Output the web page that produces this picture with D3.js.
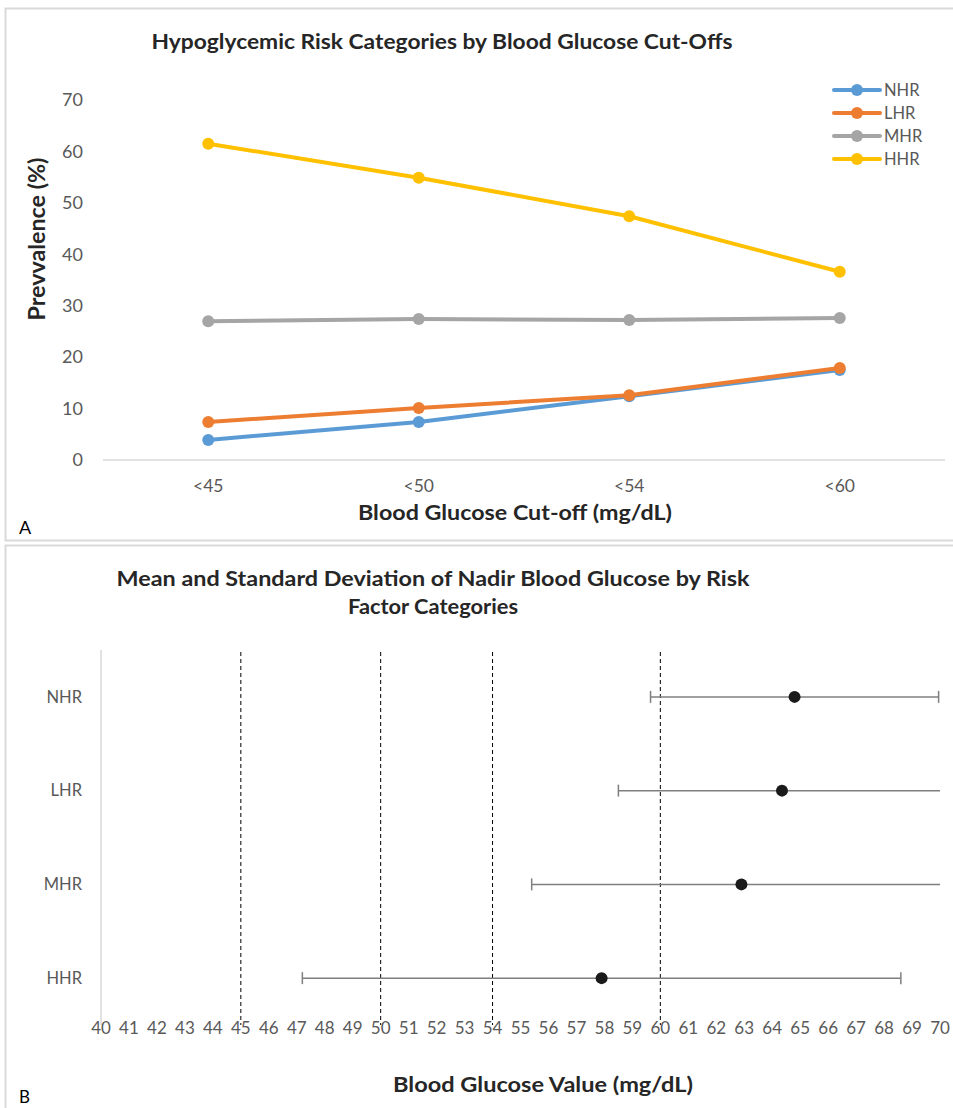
<!DOCTYPE html>
<html>
<head>
<meta charset="utf-8">
<script src="https://cdn.jsdelivr.net/npm/d3@7"></script>
<style>
  body { margin: 0; background: #fff; }
  svg { display: block; font-family: Lato, "Open Sans", sans-serif; }
  .tick-label { fill: #595959; font-size: 16px; }
  .title { fill: #262626; font-weight: 700; }
</style>
</head>
<body>
<svg id="chart" width="953" height="1108"></svg>
<script>
// Panel A data
const cutoffs = ['<45', '<50', '<54', '<60'];
const riskGroups = ['NHR', 'LHR', 'MHR', 'HHR'];
const prevNHR = [3.9, 7.4, 12.4, 17.5];
const prevLHR = [7.4, 10.1, 12.6, 17.9];
const prevMHR = [27.0, 27.4, 27.2, 27.6];
const prevHHR = [61.5, 54.9, 47.4, 36.6];
const prevTicks = [0, 10, 20, 30, 40, 50, 60, 70];

// Panel B data
const nadirMean = [64.8, 64.35, 62.9, 57.9];
const nadirSD = [5.15, 5.85, 7.5, 10.7];
const cutLines = [45, 50, 54, 60];

const colors = ['#5b9bd5', '#ed7d31', '#a5a5a5', '#ffc000'];
const series = [prevNHR, prevLHR, prevMHR, prevHHR];

const svg = d3.select('#chart');
const border = '#d9d9d9';

// bold titles are stretched to the reference's widths (Calibri isn't installed)
function title(x, y, txt, len, size) {
  return svg.append('text').attr('class', 'title')
      .attr('x', x).attr('y', y).attr('text-anchor', 'middle')
      .style('font-size', (size || 21) + 'px')
      .attr('textLength', len).attr('lengthAdjust', 'spacingAndGlyphs')
      .text(txt);
}

// panel frames
svg.append('rect').attr('x', 5.5).attr('y', 8.5).attr('width', 960).attr('height', 532)
    .attr('fill', 'none').attr('stroke', border).attr('stroke-width', 2);
svg.append('rect').attr('x', 5.5).attr('y', 545.5).attr('width', 960).attr('height', 600)
    .attr('fill', 'none').attr('stroke', border).attr('stroke-width', 2);

// ---------- Panel A ----------
const xA = d3.scaleBand().domain(cutoffs).range([103, 945]);
const yA = d3.scaleLinear().domain([0, 70]).range([460, 100]);

title(442, 49, 'Hypoglycemic Risk Categories by Blood Glucose Cut-Offs', 581);

const gA = svg.append('g');
gA.append('line').attr('x1', 103).attr('x2', 945).attr('y1', yA(0)).attr('y2', yA(0))
    .attr('stroke', border).attr('stroke-width', 1.5);

gA.selectAll('text.ytick').data(prevTicks).enter().append('text')
    .attr('class', 'tick-label ytick')
    .attr('x', 83).attr('y', d => yA(d)).attr('dy', '0.35em')
    .attr('text-anchor', 'end').style('font-size', '18px')
    .text(d => d);

gA.selectAll('text.xtick').data(cutoffs).enter().append('text')
    .attr('class', 'tick-label xtick')
    .attr('x', d => xA(d) + xA.bandwidth() / 2).attr('y', 492)
    .attr('text-anchor', 'middle').style('font-size', '17.5px')
    .text(d => d);

title(515, 520, 'Blood Glucose Cut-off (mg/dL)', 314);

title(0, 0, 'Prevvalence (%)', 163, 22)
    .attr('transform', 'translate(45,239) rotate(-90)');

svg.append('text').attr('x', 19).attr('y', 534).style('font-size', '18px').attr('fill', '#000').text('A');

const line = d3.line()
    .x((d, i) => xA(cutoffs[i]) + xA.bandwidth() / 2)
    .y(d => yA(d));

series.forEach((vals, s) => {
  const g = gA.append('g');
  g.append('path').datum(vals).attr('d', line)
      .attr('fill', 'none').attr('stroke', colors[s]).attr('stroke-width', 4)
      .attr('stroke-linejoin', 'round');
  g.selectAll('circle').data(vals).enter().append('circle')
      .attr('cx', (d, i) => xA(cutoffs[i]) + xA.bandwidth() / 2)
      .attr('cy', d => yA(d)).attr('r', 6).attr('fill', colors[s]);
});

// legend
const leg = svg.append('g');
riskGroups.forEach((name, i) => {
  const y = 90 + i * 23;
  leg.append('line').attr('x1', 834).attr('x2', 880).attr('y1', y).attr('y2', y)
      .attr('stroke', colors[i]).attr('stroke-width', 4).attr('stroke-linecap', 'round');
  leg.append('circle').attr('cx', 857).attr('cy', y).attr('r', 6).attr('fill', colors[i]);
  leg.append('text').attr('class', 'tick-label').attr('x', 884).attr('y', y).attr('dy', '0.36em')
      .style('font-size', '16.5px').text(name);
});

// ---------- Panel B ----------
const xB = d3.scaleLinear().domain([40, 70]).range([101, 940]);
const yB = d3.scaleBand().domain(riskGroups).range([650, 1025]);

title(433, 586, 'Mean and Standard Deviation of Nadir Blood Glucose by Risk', 633);
title(433, 614, 'Factor Categories', 170);

const gB = svg.append('g');
gB.append('line').attr('x1', xB(40)).attr('x2', xB(40)).attr('y1', 650).attr('y2', 1025)
    .attr('stroke', border).attr('stroke-width', 1.5);

gB.selectAll('line.cut').data(cutLines).enter().append('line')
    .attr('class', 'cut')
    .attr('x1', d => xB(d)).attr('x2', d => xB(d))
    .attr('y1', 652).attr('y2', 1025)
    .attr('stroke', '#000').attr('stroke-width', 1).attr('stroke-dasharray', '4,3');

gB.selectAll('text.ycat').data(riskGroups).enter().append('text')
    .attr('class', 'tick-label ycat')
    .attr('x', 82).attr('y', d => yB(d) + yB.bandwidth() / 2).attr('dy', '0.35em')
    .attr('text-anchor', 'end').style('font-size', '16.5px')
    .text(d => d);

gB.selectAll('text.xtick').data(d3.range(40, 71)).enter().append('text')
    .attr('class', 'tick-label xtick')
    .attr('x', d => xB(d)).attr('y', 1034)
    .attr('text-anchor', 'middle').style('font-size', '17px')
    .text(d => d);

title(543, 1092, 'Blood Glucose Value (mg/dL)', 300);

svg.append('text').attr('x', 19).attr('y', 1103).style('font-size', '17px').attr('fill', '#000').text('B');

riskGroups.forEach((name, i) => {
  const cy = yB(name) + yB.bandwidth() / 2;
  const lo = nadirMean[i] - nadirSD[i];
  const hi = nadirMean[i] + nadirSD[i];
  const [d0, d1] = xB.domain();
  const g = gB.append('g');
  g.append('line').attr('x1', xB(Math.max(lo, d0))).attr('x2', xB(Math.min(hi, d1)))
      .attr('y1', cy).attr('y2', cy).attr('stroke', '#7f7f7f').attr('stroke-width', 1.5);
  [lo, hi].filter(v => v >= d0 && v <= d1).forEach(v => {
    g.append('line').attr('x1', xB(v)).attr('x2', xB(v)).attr('y1', cy - 6).attr('y2', cy + 6)
        .attr('stroke', '#7f7f7f').attr('stroke-width', 1.5);
  });
  g.append('circle').attr('cx', xB(nadirMean[i])).attr('cy', cy).attr('r', 6).attr('fill', '#1a1a1a');
});
</script>
</body>
</html>
